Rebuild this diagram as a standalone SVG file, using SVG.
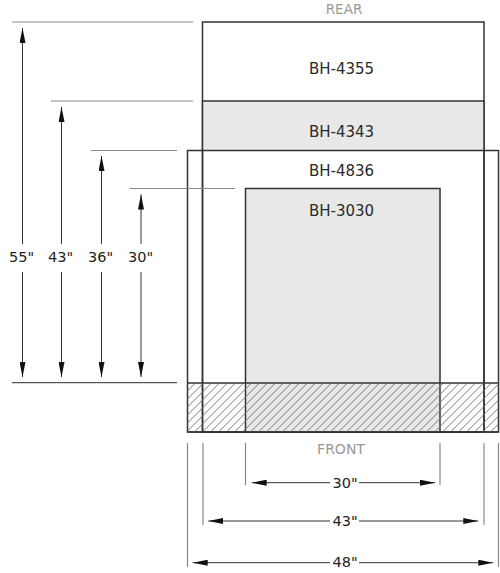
<svg xmlns="http://www.w3.org/2000/svg" width="500" height="573" viewBox="0 0 500 573">
<style>
.box{fill:none;stroke:#333;stroke-width:1.5}
.fillg{fill:#e8e8e8;stroke:none}
.lbl{font-family:"DejaVu Sans",sans-serif;font-size:15px;fill:#2a2a2a;text-anchor:middle}
.side{font-family:"DejaVu Sans",sans-serif;font-size:13.5px;fill:#999;text-anchor:middle}
.dim{font-family:"DejaVu Sans",sans-serif;font-size:14.5px;fill:#222;text-anchor:middle}
.ext{stroke:#888;stroke-width:1.2;fill:none}
.dl{stroke:#333;stroke-width:1;fill:none;marker-end:url(#ah)}
</style>
<defs>
<marker id="ah" viewBox="0 0 15 6" refX="15" refY="3" markerWidth="15" markerHeight="6" markerUnits="userSpaceOnUse" orient="auto">
<path d="M0,0 L15,3 L0,6 z" fill="#111"/>
</marker>
<pattern id="hatch" patternUnits="userSpaceOnUse" width="8" height="8" x="187.5" y="383">
<path d="M-1,1 L1,-1 M0,8 L8,0 M7,9 L9,7" stroke="#777" stroke-width="1"/>
</pattern>
</defs>

<text class="side" x="344" y="14">REAR</text>

<g id="bh4355">
<rect class="box" x="202.5" y="22" width="281.5" height="410"/>
<text class="lbl" x="341.5" y="74">BH-4355</text>
</g>

<g id="bh4343">
<rect class="fillg" x="202.5" y="101" width="281.5" height="49"/>
<rect class="box" x="202.5" y="101" width="281.5" height="331"/>
<text class="lbl" x="341.5" y="136.5">BH-4343</text>
</g>

<g id="bh4836">
<rect class="box" x="187.5" y="150.5" width="311" height="281.5"/>
<text class="lbl" x="341.5" y="176">BH-4836</text>
</g>

<g id="bh3030">
<rect class="fillg" x="245.5" y="188.5" width="194.5" height="243.5"/>
<rect class="box" x="245.5" y="188.5" width="194.5" height="243.5"/>
<text class="lbl" x="341.5" y="216">BH-3030</text>
</g>

<g id="front">
<rect x="187.5" y="383" width="311" height="49" fill="url(#hatch)"/>
<line class="box" x1="187.5" y1="383" x2="498.5" y2="383"/>
<line class="box" x1="187.5" y1="432" x2="498.5" y2="432"/>
<text class="side" x="341" y="454" style="font-size:14px">FRONT</text>
</g>

<g id="connectors">
<line class="ext" x1="12" y1="22" x2="193" y2="22"/>
<line class="ext" x1="51" y1="101" x2="193" y2="101"/>
<line class="ext" x1="91" y1="150.5" x2="177" y2="150.5"/>
<line class="ext" x1="130" y1="188.5" x2="235" y2="188.5"/>
<line x1="12" y1="382.7" x2="177" y2="382.7" stroke="#555" stroke-width="1.2"/>
<line class="dl" x1="22.5" y1="244" x2="22.5" y2="28"/>
<line class="dl" x1="22.5" y1="272" x2="22.5" y2="377"/>
<line class="dl" x1="61.5" y1="244" x2="61.5" y2="107"/>
<line class="dl" x1="61.5" y1="272" x2="61.5" y2="377"/>
<line class="dl" x1="101.5" y1="244" x2="101.5" y2="156"/>
<line class="dl" x1="101.5" y1="272" x2="101.5" y2="377"/>
<line class="dl" x1="141" y1="244" x2="141" y2="194.5"/>
<line class="dl" x1="141" y1="272" x2="141" y2="377"/>
<text class="dim" x="21.5" y="262">55"</text>
<text class="dim" x="60.5" y="262">43"</text>
<text class="dim" x="100.5" y="262">36"</text>
<text class="dim" x="140.5" y="262">30"</text>
<line class="ext" x1="187.5" y1="443" x2="187.5" y2="567"/>
<line class="ext" x1="203" y1="443" x2="203" y2="525"/>
<line class="ext" x1="245.5" y1="443" x2="245.5" y2="485"/>
<line class="ext" x1="440" y1="443" x2="440" y2="485"/>
<line class="ext" x1="484" y1="443" x2="484" y2="525"/>
<line class="ext" x1="498.5" y1="443" x2="498.5" y2="567"/>
<line class="dl" x1="330" y1="482.7" x2="251.7" y2="482.7"/>
<line class="dl" x1="359" y1="482.7" x2="435" y2="482.7"/>
<line class="dl" x1="330" y1="521" x2="208.3" y2="521"/>
<line class="dl" x1="359" y1="521" x2="478.3" y2="521"/>
<line class="dl" x1="330" y1="562.7" x2="192.7" y2="562.7"/>
<line class="dl" x1="359" y1="562.7" x2="493.3" y2="562.7"/>
<text class="dim" x="345" y="487.5">30"</text>
<text class="dim" x="345" y="526">43"</text>
<text class="dim" x="345" y="567">48"</text>
</g>
</svg>
